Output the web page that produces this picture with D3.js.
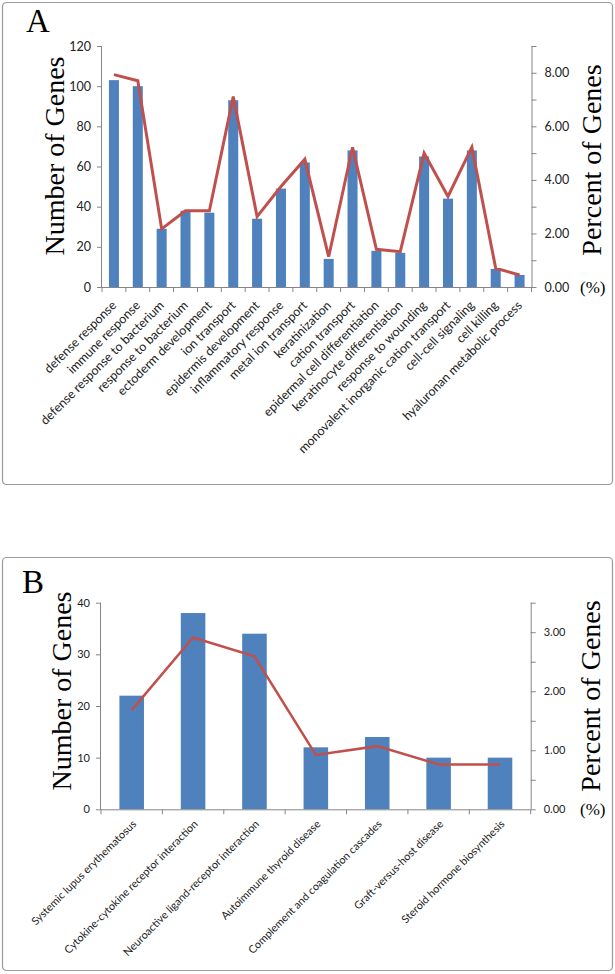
<!DOCTYPE html>
<html><head><meta charset="utf-8">
<script src="https://cdn.jsdelivr.net/npm/d3@7"></script>
<style>
body{margin:0;background:#fff;}
svg{display:block;}
</style></head>
<body>
<svg id="chart" width="615" height="974"></svg>
<script>
// ---- Panel A data ----
const catsA = ["defense response","immune response","defense response to bacterium","response to bacterium","ectoderm development","ion transport","epidermis development","inflammatory response","metal ion transport","keratinization","cation transport","epidermal cell differentiation","keratinocyte differentiation","response to wounding","monovalent inorganic cation transport","cell-cell signaling","cell killing","hyaluronan metabolic process"];
const countsA = [103,100,29,38,37,93,34,49,62,14,68,18,17,65,44,68,9,6];
const percentA = [7.93,7.70,2.17,2.85,2.85,7.11,2.63,3.75,4.77,1.13,5.22,1.41,1.32,5.00,3.38,5.22,0.70,0.45];
const leftTicksA = [0,20,40,60,80,100,120];
const rightTicksA = [0,1,2,3,4,5,6,7,8,9];
const rightLabelsA = [0,2,4,6,8];

// ---- Panel B data ----
const catsB = ["Systemic lupus erythematosus","Cytokine-cytokine receptor interaction","Neuroactive ligand-receptor interaction","Autoimmune thyroid disease","Complement and coagulation cascades","Graft-versus-host disease","Steroid hormone biosynthesis"];
const countsB = [22,38,34,12,14,10,10];
const percentB = [1.68,2.91,2.59,0.92,1.07,0.76,0.76];
const leftTicksB = [0,10,20,30,40];
const rightTicksB = [0,0.5,1,1.5,2,2.5,3,3.5];
const rightLabelsB = [0,1,2,3];

const svg = d3.select("#chart");
const BAR = "#4f81bd", LINE = "#c0504d", AX = "#868686";
const SANS = "Lato, 'Liberation Sans', sans-serif";
const SERIF = "'Liberation Serif', 'Times New Roman', serif";

function panel(o){
  const g = svg.append("g");
  g.append("rect").attr("x",o.box[0]).attr("y",o.box[1]).attr("width",o.box[2]).attr("height",o.box[3])
    .attr("rx",4).attr("fill","#fff").attr("stroke","#9a9a9a").attr("stroke-width",1.2);
  const x = d3.scaleBand().domain(o.cats).range([o.x0,o.x1]).padding(0);
  const yL = d3.scaleLinear().domain(o.leftDomain).range([o.yB,o.yT]);
  const yR = d3.scaleLinear().domain(o.rightDomain).range([o.yB,o.yT]);

  const bw = x.bandwidth()*o.barFrac;
  g.selectAll("rect.bar").data(o.counts).join("rect").attr("class","bar")
    .attr("x",(d,i)=>x(o.cats[i])+x.bandwidth()/2-bw/2)
    .attr("y",d=>yL(d)).attr("width",bw).attr("height",d=>yL(0)-yL(d)).attr("fill",BAR);

  const la = d3.axisLeft(yL).tickValues(o.leftTicks).tickSize(5).tickPadding(6).tickFormat(d3.format("d"));
  const lg = g.append("g").attr("transform",`translate(${o.x0},0)`).call(la);
  lg.select(".domain").attr("stroke",AX).attr("d",`M-0.5,${o.yB}V${o.yT}`);
  lg.selectAll(".tick line").attr("stroke",AX);
  lg.selectAll(".tick text").attr("font-family",SANS).attr("font-size",o.tickFont).attr("fill","#222");

  const ra = d3.axisRight(yR).tickValues(o.rightTicks).tickSize(5).tickPadding(8)
    .tickFormat(d=>o.rightLabels.includes(d)?d3.format(".2f")(d):"");
  const rg = g.append("g").attr("transform",`translate(${o.x1},0)`).call(ra);
  rg.select(".domain").attr("stroke",AX).attr("d",`M0.5,${o.yB}V${o.yT}`);
  rg.selectAll(".tick line").attr("stroke",AX);
  rg.selectAll(".tick text").attr("font-family",SANS).attr("font-size",o.tickFont).attr("fill","#222");

  const xg = g.append("g");
  xg.append("line").attr("x1",o.x0).attr("x2",o.x1).attr("y1",o.yB+0.5).attr("y2",o.yB+0.5).attr("stroke",AX);
  const bounds = o.cats.map(c=>x(c)).concat([o.x1]);
  xg.selectAll("line.t").data(bounds).join("line").attr("class","t")
    .attr("x1",d=>d).attr("x2",d=>d).attr("y1",o.yB).attr("y2",o.yB+5).attr("stroke",AX);
  xg.selectAll("text").data(o.cats).join("text")
    .attr("transform",d=>`translate(${x(d)+x.bandwidth()/2+o.lab[0]},${o.yB+o.lab[1]}) rotate(-45)`)
    .attr("text-anchor","end").attr("dy","0.7em")
    .attr("font-family",SANS).attr("font-size",o.labFont).attr("fill","#222").text(d=>d);

  const line = d3.line().x((d,i)=>x(o.cats[i])+x.bandwidth()/2).y(d=>yR(d));
  g.append("path").datum(o.percent).attr("d",line).attr("fill","none")
    .attr("stroke",LINE).attr("stroke-width",o.lineW).attr("stroke-linejoin","miter");

  g.append("text").attr("x",o.letter[0]).attr("y",o.letter[1]).attr("font-family",SERIF)
    .attr("font-size",33).attr("fill","#000").text(o.letterText);
  g.append("text").attr("transform",`translate(${o.lt[0]},${o.lt[1]}) rotate(-90)`).attr("text-anchor","middle")
    .attr("font-family",SERIF).attr("font-size",28).attr("fill","#000").text("Number of Genes");
  g.append("text").attr("transform",`translate(${o.rt[0]},${o.rt[1]}) rotate(-90)`).attr("text-anchor","middle")
    .attr("font-family",SERIF).attr("font-size",28).attr("fill","#000").text("Percent of Genes");
  g.append("text").attr("x",o.pct[0]).attr("y",o.pct[1]).attr("font-family",SERIF)
    .attr("font-size",17).attr("fill","#000").text("(%)");
}

panel({box:[2.5,2.5,610,482], cats:catsA, counts:countsA, percent:percentA,
  x0:102, x1:531.5, yT:46, yB:287, leftDomain:[0,120], rightDomain:[0,9],
  leftTicks:leftTicksA, rightTicks:rightTicksA, rightLabels:rightLabelsA,
  barFrac:0.42, tickFont:12.5, labFont:12.5, lab:[-3,13], lineW:3,
  letter:[26,32], letterText:"A", lt:[64,156], rt:[601,160], pct:[580,293]});

panel({box:[2.5,557.5,610,413], cats:catsB, counts:countsB, percent:percentB,
  x0:101, x1:530.7, yT:602.7, yB:809.3, leftDomain:[0,40], rightDomain:[0,3.5],
  leftTicks:leftTicksB, rightTicks:rightTicksB, rightLabels:rightLabelsB,
  barFrac:0.4, tickFont:11, labFont:10.8, lab:[0,10], lineW:2.5,
  letter:[22,593], letterText:"B", lt:[71,691], rt:[600,696], pct:[580,815]});
</script>
</body></html>
